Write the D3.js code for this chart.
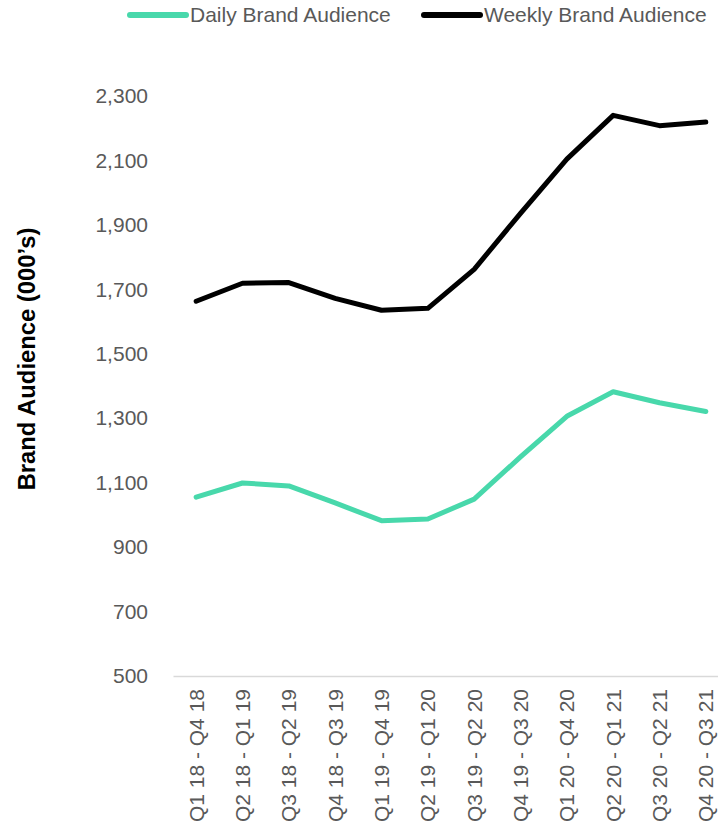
<!DOCTYPE html>
<html>
<head>
<meta charset="utf-8">
<script src="https://cdn.jsdelivr.net/npm/d3@7"></script>
<style>
  body { margin: 0; background: #fff; }
  svg { display: block; font-family: "Liberation Sans", Arial, sans-serif; }
</style>
</head>
<body>
<svg id="chart" width="718" height="827"></svg>
<script>
// Rolling four-quarter periods
const periods = [
  "Q1 18 - Q4 18", "Q2 18 - Q1 19", "Q3 18 - Q2 19", "Q4 18 - Q3 19",
  "Q1 19 - Q4 19", "Q2 19 - Q1 20", "Q3 19 - Q2 20", "Q4 19 - Q3 20",
  "Q1 20 - Q4 20", "Q2 20 - Q1 21", "Q3 20 - Q2 21", "Q4 20 - Q3 21"
];
// Audience in thousands
const dailyAudience  = [1055, 1099, 1090, 1037, 982, 987, 1049, 1180, 1306, 1382, 1348, 1321];
const weeklyAudience = [1663, 1719, 1721, 1672, 1635, 1641, 1762, 1936, 2104, 2240, 2208, 2219];
const yTicks = [500, 700, 900, 1100, 1300, 1500, 1700, 1900, 2100, 2300];
const seriesNames = ["Daily Brand Audience", "Weekly Brand Audience"];
const seriesColors = ["#48d8ab", "#000000"];

const svg = d3.select("#chart");
const textColor = "#595959";

const x = d3.scaleBand().domain(periods).range([173, 729]);
const y = d3.scaleLinear().domain([500, 2300]).range([676, 96]);

// Y axis: labels only
const yAxis = d3.axisLeft(y)
  .tickValues(yTicks)
  .tickFormat(d3.format(","))
  .tickSize(0)
  .tickPadding(0);
const gy = svg.append("g").attr("transform", "translate(148,0)").call(yAxis);
gy.select(".domain").remove();
gy.selectAll("text")
  .attr("fill", textColor)
  .style("font-size", "21px")
  .style("font-family", "'Liberation Sans', Arial, sans-serif");

// X axis with rotated period labels
const xAxis = d3.axisBottom(x).tickSize(0).tickPadding(0);
const gx = svg.append("g").attr("transform", "translate(0,676)").call(xAxis);
gx.select(".domain").attr("stroke", "#d9d9d9").attr("stroke-width", 1.5);
gx.selectAll("text")
  .attr("fill", textColor)
  .style("font-size", "21px")
  .style("font-family", "'Liberation Sans', Arial, sans-serif")
  .attr("text-anchor", "end")
  .attr("transform", "translate(0,13) rotate(-90)")
  .attr("x", 0)
  .attr("y", 0)
  .attr("dy", "0.35em");

// Y axis title
svg.append("text")
  .attr("transform", "translate(26,359) rotate(-90)")
  .attr("text-anchor", "middle")
  .attr("dominant-baseline", "central")
  .attr("fill", "#000")
  .style("font-size", "23.8px")
  .style("font-weight", "bold")
  .text("Brand Audience (000\u2019s)");

// Lines
const line = d3.line()
  .x((d, i) => x(periods[i]) + x.bandwidth() / 2)
  .y(d => y(d));

[dailyAudience, weeklyAudience].forEach((data, k) => {
  svg.append("path")
    .datum(data)
    .attr("fill", "none")
    .attr("stroke", seriesColors[k])
    .attr("stroke-width", 5)
    .attr("stroke-linejoin", "round")
    .attr("stroke-linecap", "round")
    .attr("d", line);
});

// Legend
const legendX = [130, 424];
seriesNames.forEach((name, k) => {
  const g = svg.append("g").attr("transform", `translate(${legendX[k]},15)`);
  g.append("line")
    .attr("x1", 0).attr("x2", 56)
    .attr("y1", 0).attr("y2", 0)
    .attr("stroke", seriesColors[k])
    .attr("stroke-width", 6)
    .attr("stroke-linecap", "round");
  g.append("text")
    .attr("x", 60)
    .attr("y", 0)
    .attr("dy", "0.35em")
    .attr("fill", textColor)
    .style("font-size", "21px")
    .text(name);
});
</script>
</body>
</html>
